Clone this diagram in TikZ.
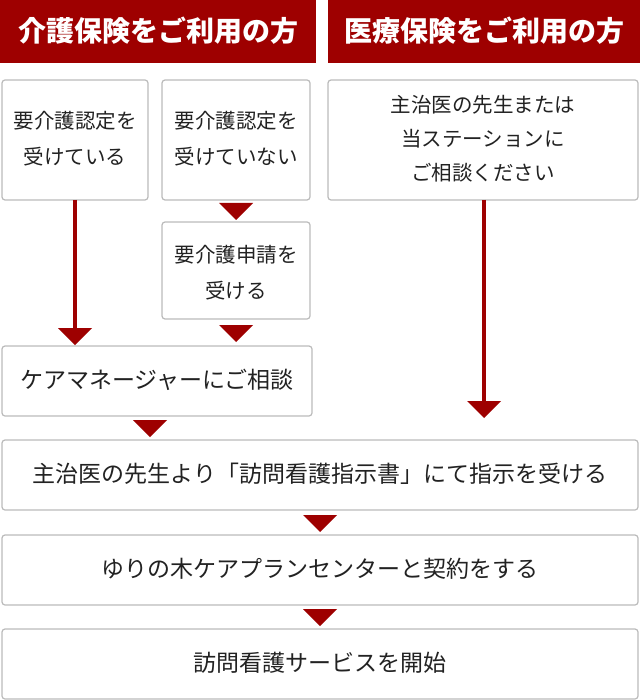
\documentclass[tikz,border=0pt]{standalone}
\usepackage{fontspec}
\setmainfont{Noto Sans CJK JP}
\definecolor{dred}{HTML}{9E0000}
\definecolor{bgray}{HTML}{BBBBBB}
\definecolor{txt}{HTML}{222222}
\begin{document}
\begin{tikzpicture}[x=1pt,y=-1pt,
  box/.style={draw=bgray,line width=1.2pt,rounded corners=3pt,fill=white},
  hdr/.style={fill=dred},
  tri/.style={fill=dred},
  lbl/.style={font=\fontsize{20.5}{36}\selectfont,text=txt,align=center},
  big/.style={font=\fontsize{23}{28}\selectfont,text=txt,align=center},
  htxt/.style={font=\fontsize{28}{32}\selectfont\bfseries,text=white}]
\useasboundingbox (0,0) rectangle (640,700);
\fill[hdr] (0,0) rectangle (316,63);
\fill[hdr] (328,0) rectangle (640,63);
\node[htxt] (h1) at (158,31) {介護保険をご利用の方};
\node[htxt] (h2) at (484,31) {医療保険をご利用の方};
\draw[box] (2,80) rectangle (148,200);
\node[lbl] (b1) at (75,139) {要介護認定を\\受けている};
\draw[box] (162,80) rectangle (310,200);
\node[lbl] (b2) at (236,139) {要介護認定を\\受けていない};
\draw[box] (328,80) rectangle (638,200);
\node[lbl,font=\fontsize{20.5}{34}\selectfont] (b3) at (483,139) {主治医の先生または\\当ステーションに\\ご相談ください};
\draw[box] (162,222) rectangle (310,319);
\node[lbl] (b4) at (236,273) {要介護申請を\\受ける};
\draw[box] (2,346) rectangle (312,416);
\node[big] (b5) at (157,380) {ケアマネージャーにご相談};
\draw[box] (2,440) rectangle (638,510);
\node[big] (b6) at (320,474) {主治医の先生より「訪問看護指示書」にて指示を受ける};
\draw[box] (2,535) rectangle (638,605);
\node[big] (b7) at (320,569) {ゆりの木ケアプランセンターと契約をする};
\draw[box] (2,629) rectangle (638,699);
\node[big] (b8) at (320,663) {訪問看護サービスを開始};
\draw[dred,line width=3.5pt] (75,200) -- (75,330);
\fill[tri] (58,328) -- (92,328) -- (75,345) -- cycle;
\draw[dred,line width=3.5pt] (484,200) -- (484,403);
\fill[tri] (467,401) -- (501,401) -- (484,418) -- cycle;
\fill[tri] (219,203) -- (253,203) -- (236,220) -- cycle;
\fill[tri] (219,325) -- (253,325) -- (236,342) -- cycle;
\fill[tri] (133,420) -- (167,420) -- (150,437) -- cycle;
\fill[tri] (303,515) -- (337,515) -- (320,532) -- cycle;
\fill[tri] (303,609) -- (337,609) -- (320,626) -- cycle;
\end{tikzpicture}
\end{document}
